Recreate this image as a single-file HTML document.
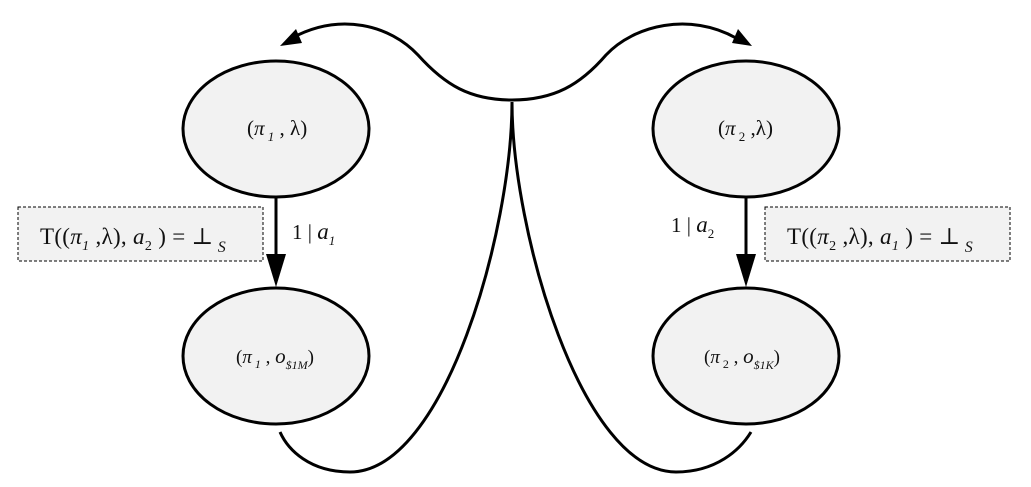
<!DOCTYPE html>
<html><head><meta charset="utf-8"><style>
html,body{margin:0;padding:0;background:#fff;}
svg{display:block;}
text{font-family:"Liberation Serif","DejaVu Serif",serif;fill:#111;}
</style></head><body>
<svg width="1031" height="487" viewBox="0 0 1031 487" xmlns="http://www.w3.org/2000/svg">
<g fill="#f2f2f2" stroke="#000" stroke-width="3">
<ellipse cx="276" cy="129" rx="93" ry="68"/>
<ellipse cx="276" cy="356" rx="93" ry="68"/>
<ellipse cx="746" cy="129" rx="93" ry="68"/>
<ellipse cx="746" cy="356" rx="93" ry="68"/>
</g>
<g fill="none" stroke="#000" stroke-width="3">
<path d="M276,198 L276,264"/>
<path d="M746,198 L746,264"/>
<path d="M512,102 C512,230 445,472 350,472 C310,472 288,450 280,432"/>
<path d="M512,102 C512,230 581,472 676,472 C716,472 740,450 751,432"/>
<path d="M512,100 C470,100 445,85 418,55 C390,25 340,12 292,38"/>
<path d="M512,100 C554,100 580,85 606,55 C634,25 690,12 736,38"/>
</g>
<g fill="#000">
<path d="M266,254 L286,254 L276,287 z"/>
<path d="M736,254 L756,254 L746,287 z"/>
<path d="M280,46 L296,29 L302,43 z"/>
<path d="M752,46 L732,43 L738,29 z"/>
</g>
<rect x="18" y="207" width="245" height="54" fill="#f2f2f2" stroke="#000" stroke-width="1" stroke-dasharray="3,2"/>
<rect x="765" y="207" width="245" height="54" fill="#f2f2f2" stroke="#000" stroke-width="1" stroke-dasharray="3,2"/>
<g font-size="23">
<text x="40" y="244" letter-spacing="0.3">T((<tspan font-style="italic">π</tspan><tspan font-size="14" font-style="italic" dy="6">1</tspan><tspan dy="-6"> ,λ), </tspan><tspan font-style="italic">a</tspan><tspan font-size="14" dy="6">2</tspan><tspan dy="-6"> ) = ⊥</tspan><tspan font-size="16" font-style="italic" dy="8"> S</tspan></text>
<text x="787" y="244" letter-spacing="0.3">T((<tspan font-style="italic">π</tspan><tspan font-size="14" dy="6">2</tspan><tspan dy="-6"> ,λ), </tspan><tspan font-style="italic">a</tspan><tspan font-size="14" font-style="italic" dy="6">1</tspan><tspan dy="-6"> ) = ⊥</tspan><tspan font-size="16" font-style="italic" dy="8"> S</tspan></text>
<text x="292" y="239" font-size="21">1 | <tspan font-style="italic" font-size="23">a</tspan><tspan font-size="13" font-style="italic" dy="6">1</tspan></text>
<text x="671" y="232" font-size="21">1 | <tspan font-style="italic" font-size="23">a</tspan><tspan font-size="13" dy="6">2</tspan></text>
<text x="247" y="135" font-size="21">(<tspan font-style="italic">π</tspan><tspan font-size="13" font-style="italic" dy="6"> 1</tspan><tspan dy="-6"> , λ)</tspan></text>
<text x="718" y="135" font-size="21">(<tspan font-style="italic">π</tspan><tspan font-size="13" dy="6"> 2</tspan><tspan dy="-6"> ,λ)</tspan></text>
<text x="236" y="363" font-size="19">(<tspan font-style="italic">π</tspan><tspan font-size="12" font-style="italic" dy="5"> 1</tspan><tspan dy="-5"> , </tspan><tspan font-style="italic" font-size="21">o</tspan><tspan font-size="12" font-style="italic" dy="6">$1M</tspan><tspan dy="-6">)</tspan></text>
<text x="704" y="363" font-size="19">(<tspan font-style="italic">π</tspan><tspan font-size="12" dy="5"> 2</tspan><tspan dy="-5"> , </tspan><tspan font-style="italic" font-size="21">o</tspan><tspan font-size="12" font-style="italic" dy="6">$1K</tspan><tspan dy="-6">)</tspan></text>
</g>
</svg>
</body></html>
